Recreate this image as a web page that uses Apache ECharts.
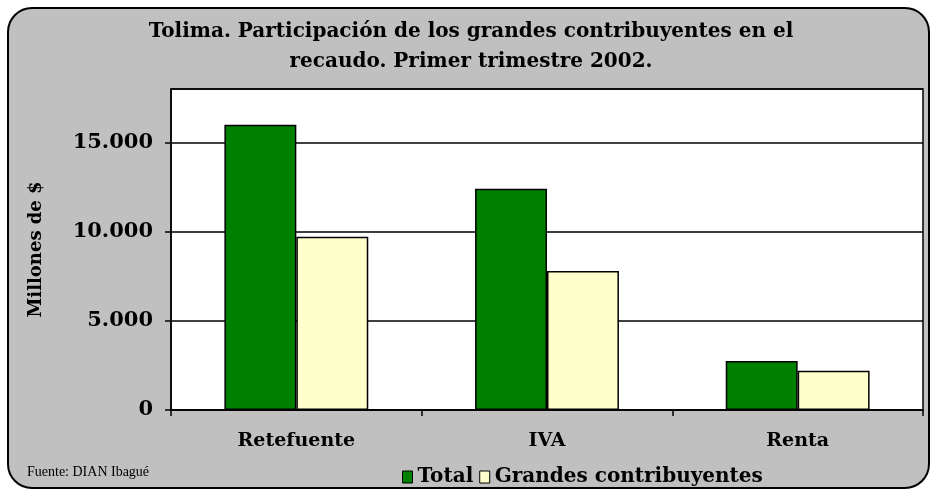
<!DOCTYPE html>
<html><head><meta charset="utf-8">
<script src="https://cdn.jsdelivr.net/npm/echarts@6/dist/echarts.min.js"></script>
<style>html,body{margin:0;padding:0;background:#fff}#c{width:934px;height:493px}</style>
</head><body><div id="c"></div>
<script>
const categories = ['Retefuente', 'IVA', 'Renta'];
const totalValues = [16000, 12400, 2750];
const grandesValues = [9720, 7800, 2200];
const yTicks = [0, 5000, 10000, 15000];
const seriesNames = ['Total', 'Grandes contribuyentes'];

const chart = echarts.init(document.getElementById('c'));
const serifB = 'DejaVu Serif';
chart.setOption({
  animation: false,
  graphic: [{
    type: 'rect', z: -10, silent: true,
    shape: { x: 8, y: 8, width: 921, height: 480, r: 24 },
    style: { fill: '#C0C0C0', stroke: '#000', lineWidth: 2 }
  }, {
    type: 'text', left: 27, top: 465,
    style: { text: 'Fuente: DIAN Ibagué', font: '14px "Liberation Serif"', fill: '#000' }
  }],
  title: {
    text: 'Tolima. Participación de los grandes contribuyentes en el\nrecaudo. Primer trimestre 2002.',
    left: 466, top: 12, textAlign: 'center',
    textStyle: { fontFamily: serifB, fontWeight: 'bold', fontSize: 20, lineHeight: 30, color: '#000' }
  },
  legend: {
    left: 397, top: 462, itemWidth: 10, itemHeight: 12, itemGap: 6,
    icon: 'rect',
    data: seriesNames,
    textStyle: { fontFamily: serifB, fontWeight: 'bold', fontSize: 20, color: '#000' },
    itemStyle: { borderColor: '#000', borderWidth: 1 }
  },
  grid: {
    left: 171, right: 11, top: 89, bottom: 83, show: true,
    backgroundColor: '#fff', borderColor: '#000', borderWidth: 1.5
  },
  xAxis: {
    type: 'category', data: categories,
    axisLine: { lineStyle: { color: '#000', width: 1.5 } },
    axisTick: { show: true, length: 6, lineStyle: { color: '#000', width: 1.5 } },
    axisLabel: { fontFamily: serifB, fontWeight: 'bold', fontSize: 19, color: '#000', margin: 22 }
  },
  yAxis: {
    type: 'value', min: 0, max: 18000, interval: 5000,
    name: 'Millones de $', nameLocation: 'middle', nameGap: 126, nameRotate: 90,
    nameTextStyle: { fontFamily: serifB, fontWeight: 'bold', fontSize: 18, color: '#000' },
    axisLine: { show: true, lineStyle: { color: '#000', width: 1.5 } },
    axisTick: { show: true, length: 6, lineStyle: { color: '#000', width: 1.5 } },
    splitLine: { lineStyle: { color: '#000', width: 1.5 } },
    axisLabel: {
      fontFamily: serifB, fontWeight: 'bold', fontSize: 21, color: '#000', margin: 18,
      showMaxLabel: false,
      formatter: v => yTicks.includes(v) ? v.toLocaleString('de-DE') : ''
    }
  },
  series: [{
    name: seriesNames[0], type: 'bar', data: totalValues,
    barGap: '0%', barCategoryGap: '42.6%',
    itemStyle: { color: '#008000', borderColor: '#000', borderWidth: 1.5 }
  }, {
    name: seriesNames[1], type: 'bar', data: grandesValues,
    itemStyle: { color: '#FFFFCC', borderColor: '#000', borderWidth: 1.5 }
  }]
});
</script></body></html>
